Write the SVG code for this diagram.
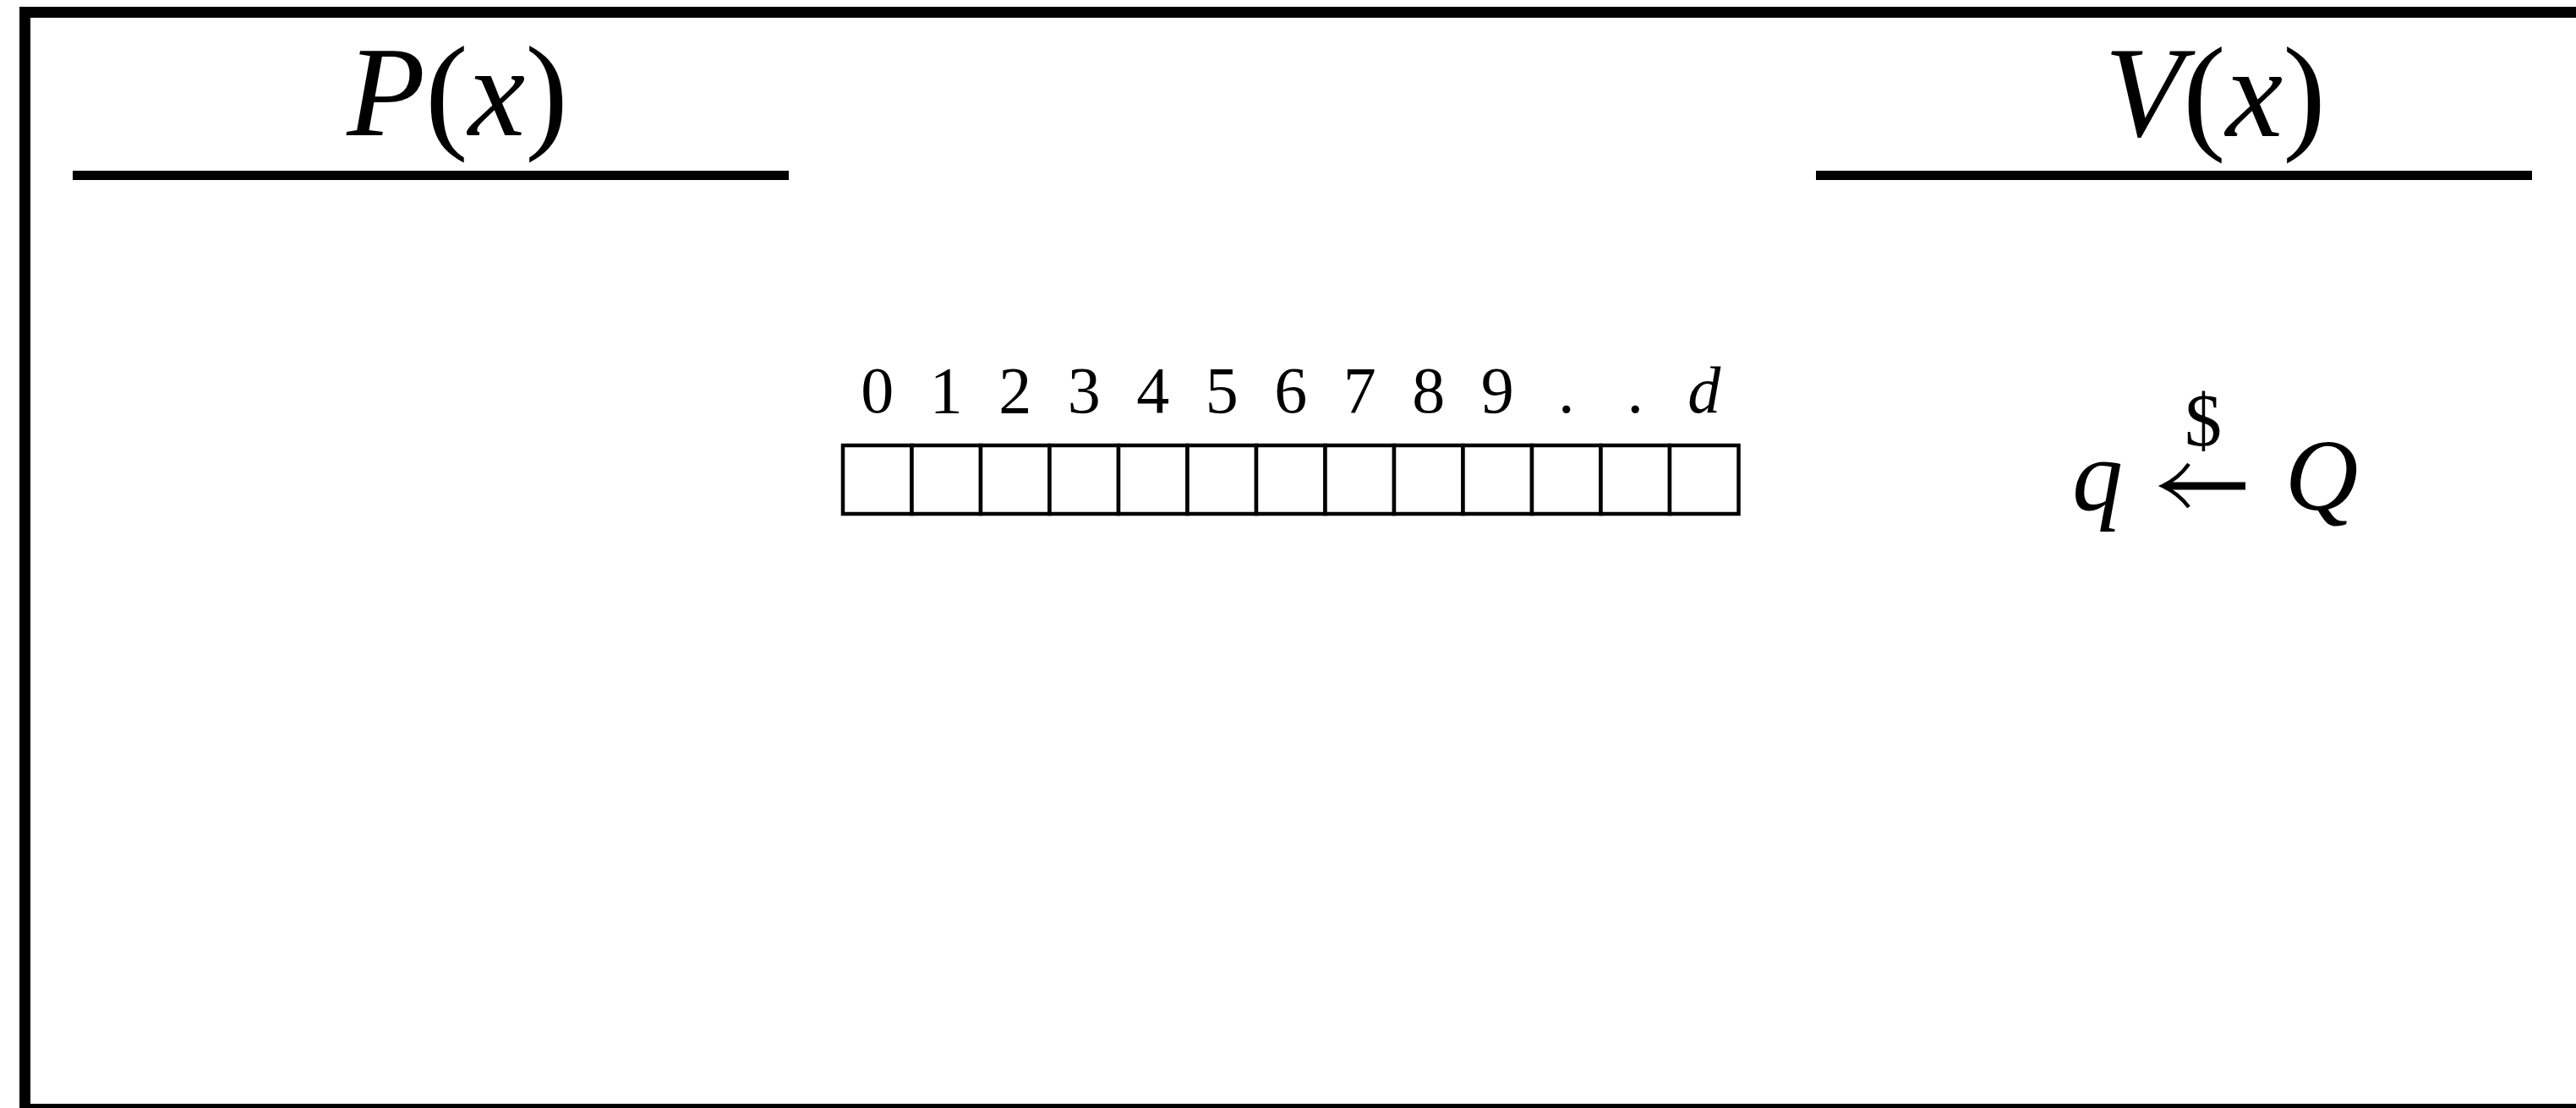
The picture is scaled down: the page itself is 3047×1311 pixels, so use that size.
<svg xmlns="http://www.w3.org/2000/svg" width="3047" height="1311" viewBox="0 0 3047 1311">
<style>
.t{font-family:"Liberation Serif","Times New Roman",serif;fill:#000}
.i{font-style:italic}
.rule{stroke:#000;stroke-width:11}
.cell{fill:#fff;stroke:#000;stroke-width:4.5}
.lbl{font-family:"Liberation Serif","Times New Roman",serif;font-size:78px;text-anchor:middle;fill:#000}
.arr{fill:none;stroke:#000}
</style>
<rect width="3047" height="1311" fill="#fff"/>
<g id="frame">
<rect x="29.5" y="14.5" width="3100" height="1298" fill="none" stroke="#000" stroke-width="13"/>
</g>
<g id="prover">
<text class="t" x="541" y="160" font-size="152" text-anchor="middle"><tspan class="i">P</tspan>(<tspan class="i">x</tspan>)</text>
<line class="rule" x1="86" y1="207.5" x2="933" y2="207.5"/>
</g>
<g id="verifier">
<text class="t" x="2620" y="161" font-size="152" text-anchor="middle"><tspan class="i">V</tspan>(<tspan class="i">x</tspan>)</text>
<line class="rule" x1="2148" y1="207.5" x2="2995" y2="207.5"/>
</g>
<g id="array">
<g id="cells">
<rect class="cell" x="997" y="527" width="81.5" height="81"/>
<rect class="cell" x="1078.5" y="527" width="81.5" height="81"/>
<rect class="cell" x="1160" y="527" width="81.5" height="81"/>
<rect class="cell" x="1241.5" y="527" width="81.5" height="81"/>
<rect class="cell" x="1323" y="527" width="81.5" height="81"/>
<rect class="cell" x="1404.5" y="527" width="81.5" height="81"/>
<rect class="cell" x="1486" y="527" width="81.5" height="81"/>
<rect class="cell" x="1567.5" y="527" width="81.5" height="81"/>
<rect class="cell" x="1649" y="527" width="81.5" height="81"/>
<rect class="cell" x="1730.5" y="527" width="81.5" height="81"/>
<rect class="cell" x="1812" y="527" width="81.5" height="81"/>
<rect class="cell" x="1893.5" y="527" width="81.5" height="81"/>
<rect class="cell" x="1975" y="527" width="81.5" height="81"/>
</g>
<g id="labels">
<text class="lbl" x="1037.75" y="488">0</text>
<text class="lbl" x="1119.25" y="488">1</text>
<text class="lbl" x="1200.75" y="488">2</text>
<text class="lbl" x="1282.25" y="488">3</text>
<text class="lbl" x="1363.75" y="488">4</text>
<text class="lbl" x="1445.25" y="488">5</text>
<text class="lbl" x="1526.75" y="488">6</text>
<text class="lbl" x="1608.25" y="488">7</text>
<text class="lbl" x="1689.75" y="488">8</text>
<text class="lbl" x="1771.25" y="488">9</text>
<text class="lbl" x="1852.75" y="488">.</text>
<text class="lbl" x="1934.25" y="488">.</text>
<text class="lbl i" x="2015.75" y="488">d</text>
</g>
</g>
<g id="sample">
<text class="t i" x="2481" y="603" font-size="120" text-anchor="middle">q</text>
<text class="t" x="2606" y="527" font-size="88" text-anchor="middle">$</text>
<text class="t i" x="2746" y="603" font-size="120" text-anchor="middle">Q</text>
</g>
<g id="connectors">
<line class="arr" x1="2562" y1="575" x2="2656" y2="575" stroke-width="9"/>
<path class="arr" d="M2589,549 Q2577,566 2558,575 Q2577,584 2589,600" stroke-width="4.5"/>
</g>
</svg>
